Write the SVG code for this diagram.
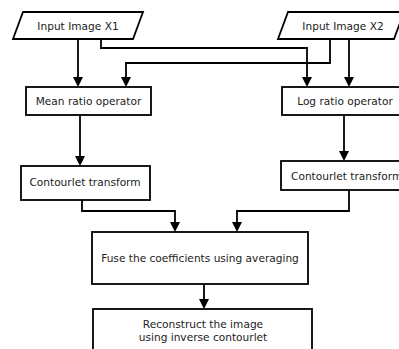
<svg xmlns="http://www.w3.org/2000/svg" width="399" height="349" viewBox="0 0 399 349">
<defs>
<style>
.box{fill:#fff;stroke:#000;stroke-width:1.8}
.t{font-family:"DejaVu Sans",sans-serif;font-size:10.6px;fill:#222;text-anchor:middle}
.c{fill:none;stroke:#000;stroke-width:1.8}
.h{fill:#000}
</style>
</defs>
<rect width="399" height="349" fill="#fff"/>
<g id="connectors">
<path class="c" d="M78,39 V78"/><path class="h" d="M73,77 H83 L78,87 Z"/>
<path class="c" d="M101,39 V48 H307 V78"/><path class="h" d="M302,77 H312 L307,87 Z"/>
<path class="c" d="M330,39 V63 H126 V78"/><path class="h" d="M121,77 H131 L126,87 Z"/>
<path class="c" d="M349,39 V78"/><path class="h" d="M344,77 H354 L349,87 Z"/>
<path class="c" d="M80,115 V157"/><path class="h" d="M75,156 H85 L80,166 Z"/>
<path class="c" d="M344,115 V152"/><path class="h" d="M339,151 H349 L344,161 Z"/>
<path class="c" d="M82,200 V211 H175 V223"/><path class="h" d="M170,222 H180 L175,232 Z"/>
<path class="c" d="M349,190 V211 H237 V223"/><path class="h" d="M232,222 H242 L237,232 Z"/>
<path class="c" d="M204,284 V300"/><path class="h" d="M199,299 H209 L204,309 Z"/>
</g>
<g id="inputX1">
<polygon class="box" points="23,12 143,12 133,39 13,39"/>
<text class="t" x="78" y="29.5">Input Image X1</text>
</g>
<g id="inputX2">
<polygon class="box" points="288,12 404,12 394,39 278,39"/>
<text class="t" x="343" y="29.5">Input Image X2</text>
</g>
<g id="meanRatio">
<rect class="box" x="26" y="87" width="125" height="28"/>
<text class="t" x="88.5" y="104.5">Mean ratio operator</text>
</g>
<g id="logRatio">
<rect class="box" x="282" y="87" width="125" height="28"/>
<text class="t" x="345" y="104.5">Log ratio operator</text>
</g>
<g id="contourletLeft">
<rect class="box" x="21" y="166" width="129" height="34"/>
<text class="t" x="85" y="185.5">Contourlet transform</text>
</g>
<g id="contourletRight">
<rect class="box" x="281" y="161" width="130" height="29"/>
<text class="t" x="291" y="179.5" style="text-anchor:start">Contourlet transform</text>
</g>
<g id="fuse">
<rect class="box" x="92" y="232" width="216" height="52"/>
<text class="t" x="200" y="262">Fuse the coefficients using averaging</text>
</g>
<g id="reconstruct">
<rect class="box" x="93" y="309" width="219" height="50"/>
<text class="t" x="203" y="327.5">Reconstruct the image</text>
<text class="t" x="203" y="340.5">using inverse contourlet</text>
</g>
</svg>
